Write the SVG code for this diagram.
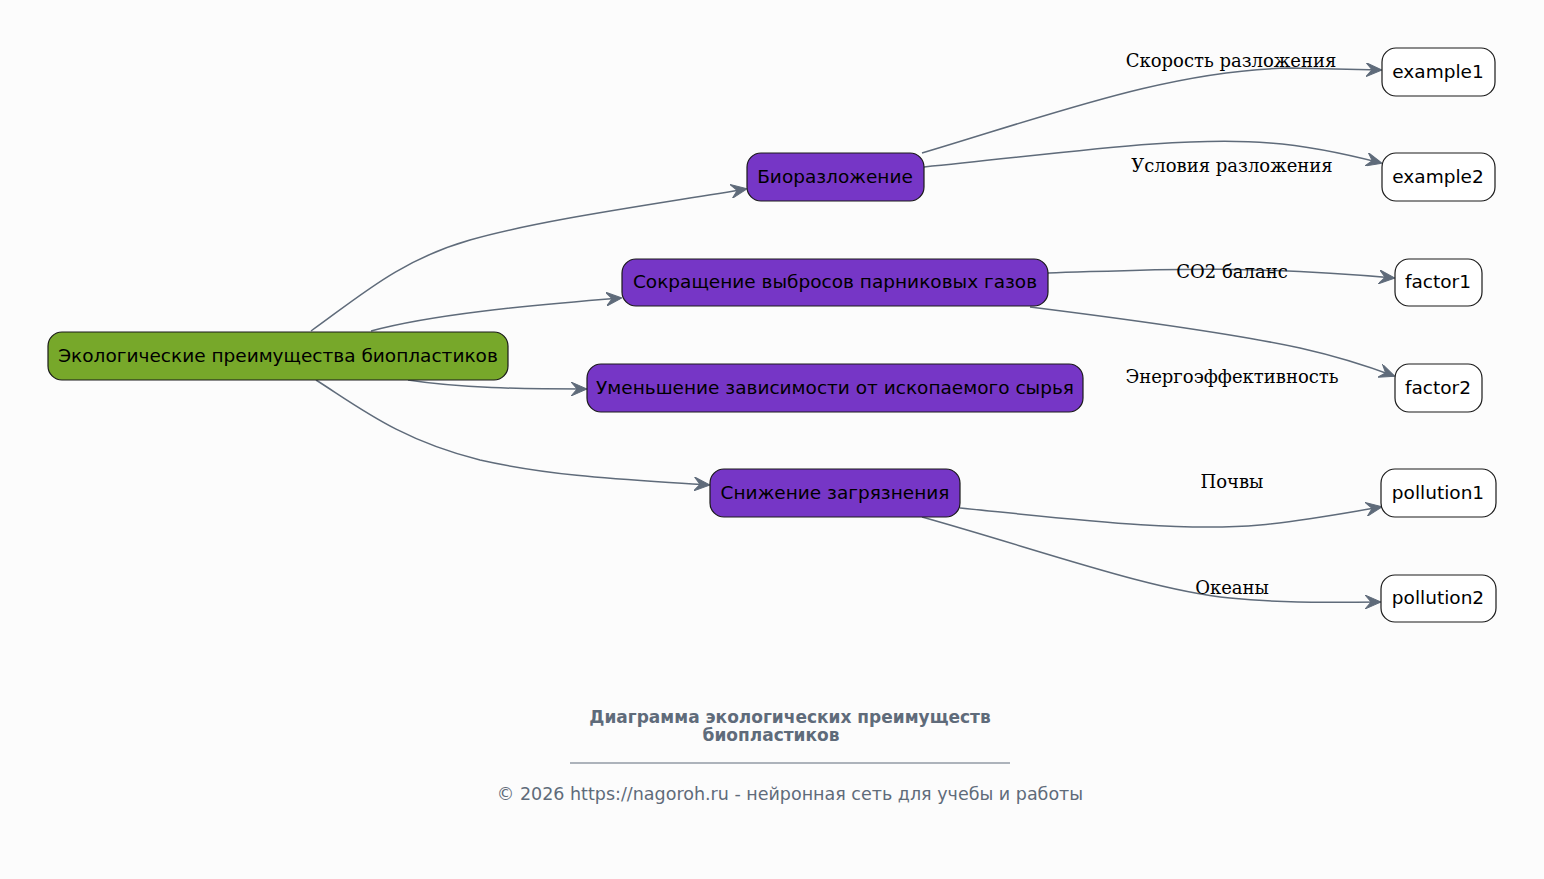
<svg xmlns="http://www.w3.org/2000/svg" width="1544" height="879" viewBox="0 0 1544 879">
<defs>
<style>
.node rect{stroke:#1a1a1a;stroke-width:1.2}
.root rect{fill:#77a82a}
.main rect{fill:#7636c6}
.leaf rect{fill:#ffffff}
.node text{font-family:"DejaVu Sans",sans-serif;font-size:18.5px;fill:#000;text-anchor:middle}
.edges path{fill:none;stroke:#5f6b7a;stroke-width:1.5}
.lbl{font-family:"DejaVu Serif",serif;font-size:18px;fill:#000;text-anchor:middle}
.title{font-family:"DejaVu Sans",sans-serif;font-size:17px;font-weight:bold;fill:#5f6b7a;text-anchor:middle}
.foot{font-family:"DejaVu Sans",sans-serif;font-size:17.5px;fill:#5f6b7a;text-anchor:middle}
</style>
<marker id="arr" viewBox="0 0 16 14" refX="15" refY="7" markerWidth="16" markerHeight="14" markerUnits="userSpaceOnUse" orient="auto">
<path d="M0,0 L16,7 L0,14 L6,7 z" fill="#5f6b7a" stroke="#5f6b7a" stroke-width="1" stroke-linejoin="round"/>
</marker>
</defs>
<rect width="1544" height="879" fill="#fcfcfc"/>
<g class="edges">
<path d="M311,331 C360,296 400,260 470,240 C540,220 650,205 746,189" marker-end="url(#arr)"/>
<path d="M371,331 C430,315 520,306 621,298" marker-end="url(#arr)"/>
<path d="M408,380 C460,388 520,389 586,389" marker-end="url(#arr)"/>
<path d="M316,380 C360,408 400,440 480,460 C560,478 640,480 709,485" marker-end="url(#arr)"/>
<path d="M922,153 C1050,115 1170,70 1290,68 L1381,70" marker-end="url(#arr)"/>
<path d="M924,167 C1050,155 1180,135 1270,143 C1310,146 1350,155 1381,163" marker-end="url(#arr)"/>
<path d="M1048,273 C1150,270 1230,264 1394,278" marker-end="url(#arr)"/>
<path d="M1030,307 C1150,322 1240,335 1300,348 C1340,357 1370,367 1394,376" marker-end="url(#arr)"/>
<path d="M960,508 C1080,520 1180,532 1260,525 C1310,520 1350,512 1381,507" marker-end="url(#arr)"/>
<path d="M922,517 C1040,550 1150,590 1230,598 C1290,604 1340,602 1380,602" marker-end="url(#arr)"/>
<text class="lbl" x="1231" y="67">Скорость разложения</text>
<text class="lbl" x="1232" y="172">Условия разложения</text>
<text class="lbl" x="1232" y="278">CO2 баланс</text>
<text class="lbl" x="1232" y="383">Энергоэффективность</text>
<text class="lbl" x="1232" y="488">Почвы</text>
<text class="lbl" x="1232" y="594">Океаны</text>
</g>
<g id="root" class="node root"><rect x="48" y="332" width="460" height="48" rx="14"/><text x="278" y="362">Экологические преимущества биопластиков</text></g>
<g id="bio" class="node main"><rect x="747" y="153" width="177" height="48" rx="14"/><text x="835" y="183">Биоразложение</text></g>
<g id="ghg" class="node main"><rect x="622" y="259" width="426" height="47" rx="14"/><text x="835" y="288">Сокращение выбросов парниковых газов</text></g>
<g id="fossil" class="node main"><rect x="587" y="364" width="496" height="48" rx="14"/><text x="835" y="394">Уменьшение зависимости от ископаемого сырья</text></g>
<g id="pollution" class="node main"><rect x="710" y="469" width="250" height="48" rx="14"/><text x="835" y="499">Снижение загрязнения</text></g>
<g id="example1" class="node leaf"><rect x="1382" y="48" width="113" height="48" rx="14"/><text x="1438" y="78">example1</text></g>
<g id="example2" class="node leaf"><rect x="1382" y="153" width="113" height="48" rx="14"/><text x="1438" y="183">example2</text></g>
<g id="factor1" class="node leaf"><rect x="1395" y="259" width="87" height="47" rx="14"/><text x="1438" y="288">factor1</text></g>
<g id="factor2" class="node leaf"><rect x="1395" y="364" width="87" height="48" rx="14"/><text x="1438" y="394">factor2</text></g>
<g id="pollution1" class="node leaf"><rect x="1381" y="469" width="115" height="48" rx="14"/><text x="1438" y="499">pollution1</text></g>
<g id="pollution2" class="node leaf"><rect x="1381" y="575" width="115" height="47" rx="14"/><text x="1438" y="604">pollution2</text></g>
<g id="footer">
<text class="title" x="790" y="723">Диаграмма экологических преимуществ</text>
<text class="title" x="771" y="741">биопластиков</text>
<line x1="570" y1="763" x2="1010" y2="763" stroke="#5f6b7a" stroke-width="1"/>
<text class="foot" x="790" y="800">© 2026 https://nagoroh.ru - нейронная сеть для учебы и работы</text>
</g>
</svg>
